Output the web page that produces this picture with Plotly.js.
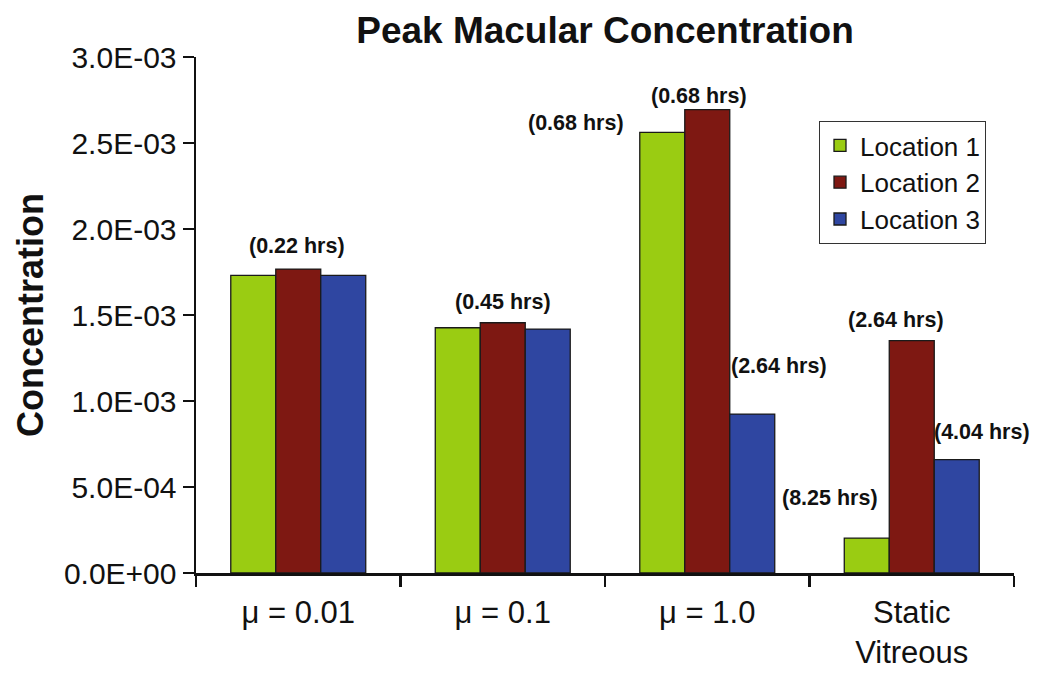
<!DOCTYPE html>
<html>
<head>
<meta charset="utf-8">
<script src="https://cdn.plot.ly/plotly-3.0.1.min.js"></script>
<style>
  html, body { margin: 0; padding: 0; background: #fff; }
  #chart { width: 1050px; height: 682px; }
</style>
</head>
<body>
<div id="chart"></div>
<script>
// ---- data ----
const categories = ['μ = 0.01', 'μ = 0.1', 'μ = 1.0', 'Static<br>Vitreous'];
const seriesNames = ['Location 1', 'Location 2', 'Location 3'];
const location1 = [1.730e-3, 1.426e-3, 2.562e-3, 0.203e-3];
const location2 = [1.767e-3, 1.455e-3, 2.694e-3, 1.351e-3];
const location3 = [1.730e-3, 1.418e-3, 0.924e-3, 0.659e-3];
const yTickVals = [0, 5e-4, 1e-3, 1.5e-3, 2e-3, 2.5e-3, 3e-3];
const yTickText = ['0.0E+00', '5.0E-04', '1.0E-03', '1.5E-03', '2.0E-03', '2.5E-03', '3.0E-03'];
const peakTimes = ['(0.22 hrs)', '(0.45 hrs)', '(0.68 hrs)', '(0.68 hrs)', '(2.64 hrs)', '(8.25 hrs)', '(2.64 hrs)', '(4.04 hrs)'];
const peakTimeCategory = [0, 1, 2, 2, 2, 3, 3, 3];
const peakTimeSeries = [1, 1, 0, 1, 2, 0, 1, 2];

// ---- styling ----
const colors = ['#9acc12', '#7e1812', '#2f46a1'];
const labelXShift = [-1, 0, -131, -8, 72, -82, -16, 70];
const labelYShift = [23, 21, 9, 14, 48, 40, 21, 28];
const FONT = 'Liberation Sans, Arial, Helvetica, sans-serif';

const allSeries = [location1, location2, location3];
const traces = allSeries.map((vals, i) => ({
  type: 'bar',
  name: seriesNames[i],
  x: categories,
  y: vals,
  marker: { color: colors[i], line: { color: '#1a1a1a', width: 1.3 } },
  hoverinfo: 'skip'
}));

const annotations = peakTimes.map((t, k) => ({
  xref: 'x', yref: 'y',
  x: categories[peakTimeCategory[k]],
  y: allSeries[peakTimeSeries[k]][peakTimeCategory[k]],
  text: '<b>' + t + '</b>',
  showarrow: false,
  xanchor: 'center', yanchor: 'middle',
  xshift: labelXShift[k],
  yshift: labelYShift[k],
  font: { family: FONT, size: 21.5, color: '#111' }
}));

const layout = {
  width: 1050, height: 682,
  margin: { l: 196, r: 36, t: 57, b: 109, pad: 0 },
  paper_bgcolor: '#fff', plot_bgcolor: '#fff',
  font: { family: FONT, color: '#111' },
  title: {
    text: '<b>Peak Macular Concentration</b>',
    font: { family: FONT, size: 37, color: '#111' },
    x: 0.5, xref: 'paper', xanchor: 'center',
    y: 1 - 30 / 682, yanchor: 'middle'
  },
  barmode: 'group',
  bargap: 0.34,
  bargroupgap: 0,
  showlegend: true,
  legend: {
    x: (819 - 196) / 818, xref: 'paper', xanchor: 'left',
    y: (573 - 121) / 516, yref: 'paper', yanchor: 'top',
    bgcolor: '#fff', bordercolor: '#333', borderwidth: 1,
    font: { family: FONT, size: 26, color: '#111' },
    itemclick: false, itemdoubleclick: false
  },
  xaxis: {
    type: 'category',
    range: [-0.5, categories.length - 0.5],
    showgrid: false, zeroline: false,
    showline: true, linecolor: '#111', linewidth: 2.5,
    ticks: 'outside', tickson: 'boundaries', ticklen: 11, tickwidth: 2.5, tickcolor: '#111',
    ticklabelstandoff: 10,
    tickfont: { family: FONT, size: 31, color: '#111' },
    fixedrange: true
  },
  yaxis: {
    range: [0, 3e-3],
    tickvals: yTickVals, ticktext: yTickText,
    showgrid: false, zeroline: false,
    showline: true, linecolor: '#111', linewidth: 2.5,
    ticks: 'outside', ticklen: 11, tickwidth: 2.5, tickcolor: '#111',
    tickfont: { family: FONT, size: 30, color: '#111' },
    title: { text: '<b>Concentration</b>', font: { family: FONT, size: 36, color: '#111' }, standoff: 10 },
    fixedrange: true
  },
  annotations: annotations
};

Plotly.newPlot('chart', traces, layout, { displayModeBar: false, staticPlot: true });
</script>
</body>
</html>
